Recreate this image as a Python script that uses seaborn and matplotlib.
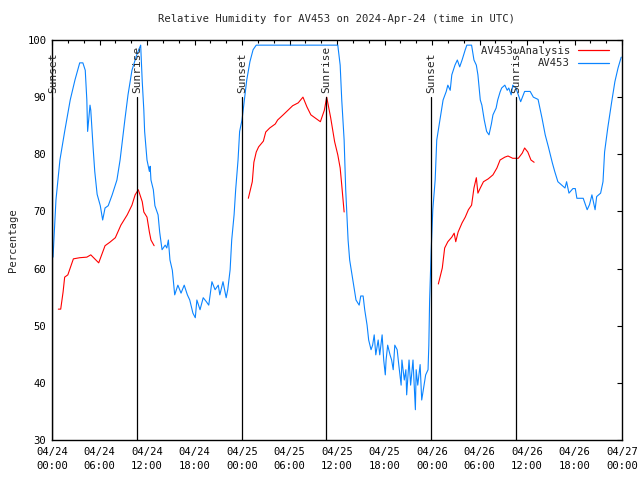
import pandas as pd
import numpy as np
import matplotlib
matplotlib.use("Agg")
import matplotlib.pyplot as plt
import matplotlib.dates as mdates
from matplotlib.lines import Line2D
import seaborn as sns

# ---- data (hours after 2024-04-24 00:00 UTC, percent) ----
obs_hours = [0.13, 0.5, 1.0, 1.6, 2.3, 2.9, 3.5, 3.9, 4.2, 4.4, 4.5, 4.8, 4.9, 5.2, 5.4, 5.7,
             6.1, 6.4, 6.7, 7.1, 7.6, 8.2, 8.6, 9.2, 9.6, 10.1, 10.7, 11.2, 11.4, 11.6, 11.7,
             12.0, 12.3, 12.4, 12.5, 12.8, 13.0, 13.4, 13.6, 13.9, 14.3, 14.5, 14.7, 14.9,
             15.2, 15.5, 15.9, 16.3, 16.7, 17.1, 17.4, 17.8, 18.1, 18.3, 18.7, 19.1, 19.5,
             19.8, 20.2, 20.6, 21.0, 21.2, 21.6, 22.0, 22.2, 22.5, 22.7, 23.0, 23.2, 23.5,
             23.7, 24.0, 24.3, 24.6, 25.0, 25.4, 25.8, 36.0, 36.1, 36.4, 36.6, 36.9, 37.1,
             37.4, 37.6, 38.0, 38.4, 38.8, 39.0, 39.3, 39.5, 39.8, 40.0, 40.3, 40.5, 40.7,
             40.9, 41.2, 41.4, 41.7, 41.9, 42.1, 42.2, 42.4, 42.7, 42.9, 43.1, 43.3, 43.6,
             43.8, 44.1, 44.2, 44.5, 44.7, 44.8, 45.1, 45.3, 45.6, 45.9, 46.0, 46.2, 46.5,
             46.7, 47.0, 47.2, 47.5, 47.6, 47.7, 47.9, 48.1, 48.4, 48.6, 49.0, 49.4, 49.8,
             50.0, 50.3, 50.5, 50.9, 51.2, 51.5, 51.8, 52.2, 52.4, 53.0, 53.3, 53.6, 53.8,
             54.1, 54.3, 54.6, 54.9, 55.2, 55.5, 55.7, 56.1, 56.3, 56.6, 56.8, 57.2, 57.5,
             57.7, 58.0, 58.2, 58.6, 58.9, 59.2, 59.7, 60.4, 60.8, 61.4, 61.9, 62.3, 62.7,
             63.2, 63.5, 63.9, 64.4, 64.8, 65.0, 65.3, 65.8, 66.1, 66.3, 67.1, 67.6, 67.9,
             68.2, 68.6, 68.8, 69.3, 69.6, 69.8, 70.2, 70.7, 71.1, 71.5, 71.9]
obs_rh = [62, 72, 79, 84, 89.5, 93, 96, 96, 94.7, 89.5, 84, 88.6, 87.7, 81, 77, 73,
          71, 68.5, 70.6, 71, 72.9, 75.5, 79, 86, 90.4, 94.7, 97.4, 99.1, 92.7, 87.7, 84,
          79, 77, 77.9, 75.5, 73.8, 71, 69.4, 66.4, 63.3, 64.1, 63.6, 65, 61.5,
          59.7, 55.4, 57.1, 55.7, 57.1, 55.4, 54.5, 52.2, 51.4, 54.5, 52.8, 54.9, 54.2,
          53.6, 57.7, 56.3, 57.1, 55.4, 57.7, 54.9, 56.3, 59.8, 65, 69.4, 73.8, 79,
          84, 86, 89.5, 93, 96.2, 98.3, 99.1, 99.1, 99.1, 95.6, 89.5, 82.5, 73.8,
          65, 61.5, 58, 54.5, 53.6, 55.2, 55.2, 52.8, 50.1, 47.5, 45.8, 46.6, 48.4,
          44.9, 47.5, 44.9, 48.4, 44, 41.4, 44, 46.6, 44.9, 44, 42.3, 46.6, 45.8,
          43.2, 39.6, 44, 40.5, 42.3, 37.9, 44, 39.6, 44, 35.3, 42.3, 39.6, 43.2,
          37, 39.6, 41.4, 42.3, 46.6, 54.5, 63.3, 70.3, 75.5, 82.5, 86, 89.5, 91,
          92.1, 91.2, 93.9, 95.6, 96.5, 95.3, 96.5, 98.3, 99.1, 99.1, 96.5, 95.6, 93.9,
          89.5, 88.6, 86, 84, 83.4, 85.3, 86.9, 88.1, 89.5, 90.9, 91.6, 92.1, 91.2,
          91.6, 90.4, 92.1, 91.6, 90.4, 89.2, 91, 91, 90, 89.6, 86.3, 83.4, 81.3,
          78.5, 77, 75.2, 74.6, 74.1, 75.2, 73.2, 74, 74, 72.3, 72.3, 70.3, 71.2,
          72.9, 70.3, 72.6, 73.2, 75.2, 80.4, 84.6, 89.2, 92.7, 95.1, 97]

ana_hours = [0.8, 1.1, 1.4, 1.6, 2.0, 2.7, 3.5, 4.4, 4.9, 5.9, 6.7, 7.3, 8.0, 8.7, 9.5,
             10.1, 10.5, 10.9, 11.4, 11.6, 12.0, 12.3, 12.5, 12.9,
             24.8, 25.3, 25.5, 25.8, 26.1, 26.7, 27.0, 27.5, 28.2, 28.5, 29.2, 29.8, 30.4,
             31.1, 31.7, 32.2, 32.7, 33.2, 33.9, 34.4, 34.7, 35.2, 35.7, 36.1, 36.4, 36.6, 36.9,
             48.8, 49.3, 49.6, 50.0, 50.5, 50.8, 51.0, 51.3, 51.8, 52.2, 52.6, 53.0, 53.3,
             53.6, 53.8, 54.1, 54.5, 55.1, 55.7, 56.2, 56.6, 57.2, 57.6, 58.2, 58.9, 59.4,
             59.7, 60.1, 60.5, 60.9]
ana_rh = [52.9, 52.9, 55.9, 58.5, 58.9, 61.7, 61.9, 62, 62.4, 61, 64, 64.6, 65.4, 67.6, 69.4,
          71.1, 72.9, 73.8, 71.7, 69.9, 69, 66.4, 65, 64,
          72.3, 75.2, 78.6, 80.4, 81.3, 82.3, 83.9, 84.6, 85.3, 86, 86.9, 87.7, 88.5,
          89, 90, 88.3, 86.9, 86.4, 85.7, 87.7, 90, 86.4, 82.2, 79.9, 77.6, 74.6, 69.9,
          57.3, 60.1, 63.6, 64.7, 65.5, 66.2, 64.7, 66.4, 68, 69, 70.3, 71.1, 74.1,
          75.9, 73.2, 74.1, 75.2, 75.7, 76.4, 77.6, 79, 79.5, 79.7, 79.3, 79.3, 80.2,
          81.1, 80.4, 79, 78.6]
ana_run = [1] * 24 + [2] * 27 + [3] * 30

sun_hours = [0.0, 10.75, 24.0, 34.6, 47.9, 58.6]
sun_names = ['Sunset', 'Sunrise', 'Sunset', 'Sunrise', 'Sunset', 'Sunrise']

start = pd.Timestamp('2024-04-24 00:00')
obs = pd.DataFrame({'time': start + pd.to_timedelta(obs_hours, unit='h'), 'rh': obs_rh})
ana = pd.DataFrame({'time': start + pd.to_timedelta(ana_hours, unit='h'), 'rh': ana_rh,
                    'run': ana_run})

# ---- plot ----
sns.set_style("white")
plt.rcParams['font.family'] = ['DejaVu Sans Mono']
fs = 7.6

fig = plt.figure(figsize=(6.4, 4.8), dpi=100)
ax = fig.add_axes([52 / 640, 40 / 480, 570 / 640, 400 / 480])

red = '#ff0000'
blue = '#0a84ff'

sns.lineplot(data=ana, x='time', y='rh', units='run', estimator=None, color=red,
             linewidth=0.8, ax=ax)
sns.lineplot(data=obs, x='time', y='rh', color=blue, linewidth=0.8, ax=ax)

for h, name in zip(sun_hours, sun_names):
    t = start + pd.Timedelta(hours=h)
    ax.plot([t, t], [30, 90], color='black', linewidth=0.9)
    ax.text(t + pd.Timedelta(hours=0.2 if h == 0 else 0), 90.8, name, rotation=90,
            ha='center', va='bottom', fontsize=8, clip_on=False)

ax.set_xlim(start, start + pd.Timedelta(hours=72))
ax.set_ylim(30, 100)
ax.set_yticks(range(30, 101, 10))
ax.xaxis.set_major_locator(mdates.HourLocator(byhour=[0, 6, 12, 18]))
ax.xaxis.set_minor_locator(mdates.HourLocator(interval=2))
ax.xaxis.set_major_formatter(mdates.DateFormatter('%m/%d\n%H:%M'))
ax.tick_params(axis='both', which='both', direction='in', top=True, right=True,
               colors='black', labelsize=fs, width=0.8)
ax.tick_params(which='major', length=3.5, pad=4)
ax.tick_params(axis='x', which='major', pad=5)
ax.tick_params(which='minor', length=2)
for lab in ax.get_xticklabels():
    lab.set_linespacing(1.45)
for s in ax.spines.values():
    s.set_color('black')
    s.set_linewidth(1.0)

ax.set_xlabel('')
ax.set_ylabel('Percentage', fontsize=fs, labelpad=7)
ax.set_title('Relative Humidity for AV453 on 2024-Apr-24 (time in UTC)', fontsize=fs, pad=13)

handles = [Line2D([0], [0], color=red, linewidth=0.9),
           Line2D([0], [0], color=blue, linewidth=0.9)]
ax.legend(handles, ['AV453 Analysis', 'AV453'], loc='upper right',
          bbox_to_anchor=(0.9877, 1.0), frameon=False,
          markerfirst=False, handlelength=3.0, borderaxespad=0.15, labelspacing=0.25,
          fontsize=fs, handletextpad=0.7)

fig.savefig('out.png', dpi=100)
